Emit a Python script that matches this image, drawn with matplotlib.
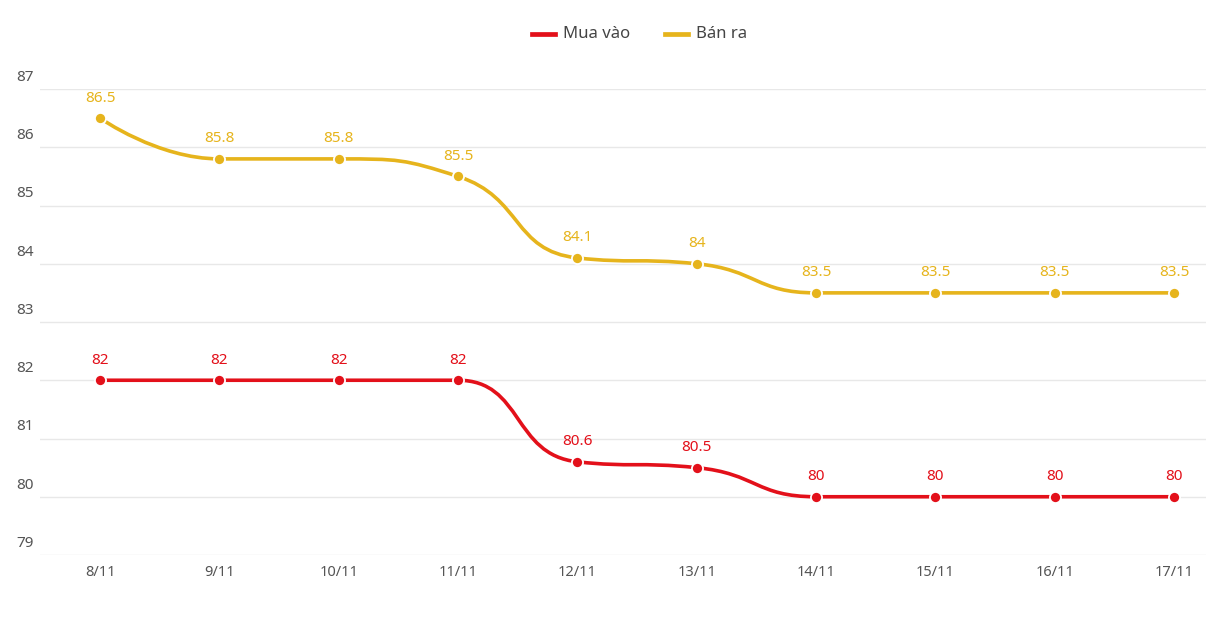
import matplotlib
matplotlib.use("Agg")
import matplotlib.pyplot as plt
from matplotlib.path import Path
from matplotlib.patches import PathPatch
import numpy as np

categories = ["8/11", "9/11", "10/11", "11/11", "12/11", "13/11", "14/11", "15/11", "16/11", "17/11"]
mua_vao = [82, 82, 82, 82, 80.6, 80.5, 80, 80, 80, 80]
ban_ra = [86.5, 85.8, 85.8, 85.5, 84.1, 84, 83.5, 83.5, 83.5, 83.5]
series_names = ["Mua vào", "Bán ra"]
y_ticks = [79, 80, 81, 82, 83, 84, 85, 86, 87]

RED = "#E3101A"
GOLD = "#E6B41C"
TEXT = "#555555"

plt.rcParams['font.family'] = ['Noto Sans', 'DejaVu Sans']

W, H = 1206, 625
fig = plt.figure(figsize=(W / 100, H / 100), dpi=100)
ax_left, ax_right, ax_top, ax_bot = 40, 1206, 89, 555
ax = fig.add_axes([ax_left / W, (H - ax_bot) / H, (ax_right - ax_left) / W, (ax_bot - ax_top) / H])

step_px = 119.33
xl = -(100 - ax_left) / step_px
xr = (len(categories) - 1) + (ax_right - 1174) / step_px
ax.set_xlim(xl, xr)
ax.set_ylim(79, 87)
for s in ax.spines.values():
    s.set_visible(False)
ax.set_xticks([])
ax.set_yticks([])

for t in y_ticks:
    ax.axhline(t, color="#E8E8E8", lw=1, zorder=0)
    ax.annotate(str(t), xy=(16 / W, t), xycoords=("figure fraction", "data"), xytext=(0, 3),
                textcoords="offset points", ha="left", va="bottom", fontsize=11, color=TEXT,
                annotation_clip=False)

xs = np.arange(len(categories))
for i, c in enumerate(categories):
    ax.annotate(c, xy=(i, 79), xycoords="data", xytext=(0, -7), textcoords="offset points",
                ha="center", va="top", fontsize=10.5, color=TEXT, annotation_clip=False)

# pixel-like scale factors for echarts-style smoothing
px_per_x = step_px
px_per_y = (ax_bot - ax_top) / 8.0


def echarts_smooth(xd, yd, smooth=0.5):
    pts = [(x * px_per_x, y * px_per_y) for x, y in zip(xd, yd)]
    verts = [pts[0]]
    codes = [Path.MOVETO]
    cpx0, cpy0 = pts[0]
    n = len(pts)
    for k in range(1, n):
        px, py = pts[k - 1]
        x, y = pts[k]
        if k >= n - 1:
            cpx1, cpy1 = x, y
            nx0, ny0 = x, y
        else:
            nx, ny = pts[k + 1]
            vx = nx - px
            vy = ny - py
            lp = np.hypot(x - px, y - py)
            ln = np.hypot(nx - x, ny - y)
            r = ln / (ln + lp)
            nx0 = x + vx * smooth * r
            ny0 = y + vy * smooth * r
            nx0 = min(nx0, max(nx, x)); ny0 = min(ny0, max(ny, y))
            nx0 = max(nx0, min(nx, x)); ny0 = max(ny0, min(ny, y))
            vx = nx0 - x; vy = ny0 - y
            cpx1 = x - vx * lp / ln
            cpy1 = y - vy * lp / ln
            cpx1 = min(cpx1, max(px, x)); cpy1 = min(cpy1, max(py, y))
            cpx1 = max(cpx1, min(px, x)); cpy1 = max(cpy1, min(py, y))
            vx = x - cpx1; vy = y - cpy1
            nx0 = x + vx * ln / lp
            ny0 = y + vy * ln / lp
        verts += [(cpx0, cpy0), (cpx1, cpy1), (x, y)]
        codes += [Path.CURVE4] * 3
        cpx0, cpy0 = nx0, ny0
    verts = [(a / px_per_x, b / px_per_y) for a, b in verts]
    return Path(verts, codes)


for vals, col in [(mua_vao, RED), (ban_ra, GOLD)]:
    path = echarts_smooth(xs, vals)
    ax.add_patch(PathPatch(path, facecolor="none", edgecolor=col, lw=2.6, zorder=3,
                           capstyle="round", joinstyle="round"))
    ax.plot(xs, vals, linestyle="none", marker="o", markersize=8, markerfacecolor=col,
            markeredgecolor="white", markeredgewidth=1.3, zorder=4)
    for x, v in zip(xs, vals):
        ax.annotate(f"{v:g}", xy=(x, v), xytext=(0, 9), textcoords="offset points",
                    ha="center", va="bottom", fontsize=11, color=col, zorder=5)

# legend
ly = 1 - 34 / H
for (x0, x1, tx), name, col in [((532, 555, 563), series_names[0], RED), ((665, 688, 696), series_names[1], GOLD)]:
    fig.add_artist(plt.Line2D([x0 / W, x1 / W], [ly, ly], color=col, lw=3.4, transform=fig.transFigure))
    fig.text(tx / W, ly, name, ha="left", va="center", fontsize=12, color="#444444")

fig.savefig("out.png", dpi=100, facecolor="white")
